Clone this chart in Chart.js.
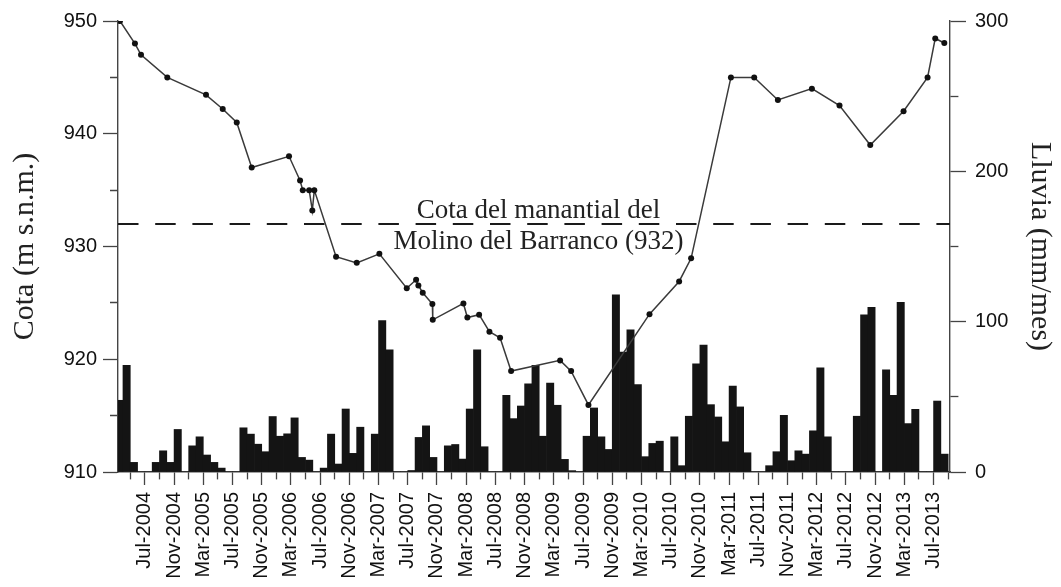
<!DOCTYPE html>
<html><head><meta charset="utf-8">
<script src="https://cdn.jsdelivr.net/npm/chart.js@4.4.1/dist/chart.umd.min.js"></script>
<style>html,body{margin:0;padding:0;background:#fff;} #c{display:block;}</style>
</head><body>
<canvas id="c" width="1061" height="587"></canvas>
<script>
// Monthly rainfall (mm/mes) from Mar-2004 to Aug-2013
const rainFirstMonth = 2; // months since Jan-2004 (2 = Mar-2004)
const rain = [
  47.7, 70.9, 6.4, 0, 0, 6.4, 14.1, 6.4, 28.3, 0,                       // 2004 Mar-Dec
  17.4, 23.4, 11.3, 6.4, 2.6, 0, 0, 29.4, 25.2, 18.5, 13.5, 36.9,        // 2005
  23.8, 25.4, 36.0, 9.7, 7.9, 0, 2.6, 25.2, 5.3, 41.9, 12.4, 29.8,       // 2006
  0, 25.2, 100.7, 81.2, 0, 0, 1.0, 23.0, 30.7, 9.7, 0, 17.4,             // 2007
  18.3, 8.6, 41.9, 81.2, 16.8, 0, 0, 51.0, 35.5, 43.9, 58.7, 70.9,       // 2008
  23.8, 59.2, 44.4, 8.4, 0.9, 0, 23.8, 42.6, 23.4, 15.0, 117.9, 79.7,    // 2009
  94.5, 58.1, 10.2, 19.0, 20.5, 0, 23.4, 4.2, 37.1, 72.0, 84.5, 44.8,    // 2010
  36.6, 20.1, 57.2, 43.3, 12.8, 0, 0, 4.2, 13.5, 37.7, 7.5, 14.1,        // 2011
  11.9, 27.4, 69.3, 23.4, 0, 0, 0, 37.1, 104.6, 109.5, 0, 68.0,          // 2012
  51.0, 112.8, 32.2, 41.7, 0, 0, 47.2, 11.9                              // 2013 Jan-Aug
];

// Water level measurements: time (months since Jan-2004) and level (m s.n.m.)
const levelMonths = [2.59, 4.64, 5.47, 9.07, 14.37, 16.66, 18.58, 20.63, 25.74, 27.25,
  27.62, 28.5, 28.93, 29.2, 32.18, 35.01, 38.11, 41.86, 43.14, 43.45,
  44.05, 45.37, 45.42, 49.62, 50.16, 51.77, 53.18, 54.64, 56.15, 62.86,
  64.37, 66.74, 75.1, 79.16, 80.8, 86.25, 89.44, 92.68, 97.34, 101.12,
  105.33, 109.89, 113.18, 114.23, 115.47];
const levelCota = [950.0, 948.0, 947.0, 945.0, 943.45, 942.2, 941.0, 937.0, 938.0, 935.85,
  935.0, 935.0, 933.2, 935.0, 929.1, 928.55, 929.35, 926.3, 927.05, 926.55,
  925.9, 924.9, 923.5, 924.95, 923.7, 923.95, 922.45, 921.9, 918.95, 919.9,
  918.95, 915.95, 924.0, 926.9, 928.95, 945.0, 945.0, 943.0, 944.0, 942.5,
  939.0, 942.0, 945.0, 948.45, 948.05];

// x-axis tick labels (every 4 months)
const tickMonths = [6, 10, 14, 18, 22, 26, 30, 34, 38, 42, 46, 50, 54, 58, 62, 66, 70, 74, 78, 82, 86, 90, 94, 98, 102, 106, 110, 114];
const tickLabels = ['Jul-2004', 'Nov-2004', 'Mar-2005', 'Jul-2005', 'Nov-2005', 'Mar-2006', 'Jul-2006',
  'Nov-2006', 'Mar-2007', 'Jul-2007', 'Nov-2007', 'Mar-2008', 'Jul-2008', 'Nov-2008', 'Mar-2009',
  'Jul-2009', 'Nov-2009', 'Mar-2010', 'Jul-2010', 'Nov-2010', 'Mar-2011', 'Jul-2011', 'Nov-2011',
  'Mar-2012', 'Jul-2012', 'Nov-2012', 'Mar-2013', 'Jul-2013'];

// Spring level reference
const springLevel = 932;
const springText = ['Cota del manantial del', 'Molino del Barranco (932)'];
const springTextMonth = 59.9;

const xMin = 2.32, xMax = 116.25;

const rainPoints = rain.map((v, i) => ({x: rainFirstMonth + i + 0.5, y: v}));
const levelPoints = levelMonths.map((m, i) => ({x: m, y: levelCota[i]}));
const springPoints = [{x: xMin, y: springLevel}, {x: xMax, y: springLevel}];

const sansFont = {family: '"Liberation Sans", Arial, sans-serif', size: 20};
const serifTitle = {family: '"Liberation Serif", "Times New Roman", serif', size: 30};

const springLabelPlugin = {
  id: 'springLabel',
  afterDatasetsDraw(chart) {
    const {ctx, scales} = chart;
    const cx = scales.x.getPixelForValue(springTextMonth);
    const cy = scales.y.getPixelForValue(springLevel);
    ctx.save();
    ctx.font = '27px "Liberation Serif", "Times New Roman", serif';
    ctx.fillStyle = '#222';
    ctx.textAlign = 'center';
    ctx.textBaseline = 'alphabetic';
    ctx.fillText(springText[0], cx, cy - 6);
    ctx.fillText(springText[1], cx, cy + 25);
    ctx.restore();
  }
};

new Chart(document.getElementById('c'), {
  type: 'bar',
  data: {
    datasets: [
      {
        type: 'line', data: levelPoints, yAxisID: 'y', order: 0,
        borderColor: '#3a3a3a', borderWidth: 1.5, tension: 0,
        pointRadius: 3, pointBackgroundColor: '#111', pointBorderWidth: 0, pointHoverRadius: 3
      },
      {
        type: 'line', data: springPoints, yAxisID: 'y', order: 1,
        borderColor: '#1a1a1a', borderWidth: 2, borderDash: [20.5, 16.7], pointRadius: 0
      },
      {
        type: 'bar', data: rainPoints, yAxisID: 'y2', order: 2,
        backgroundColor: '#141414', borderWidth: 0,
        barPercentage: 1.0, categoryPercentage: 1.0
      }
    ]
  },
  options: {
    responsive: false,
    animation: false,
    devicePixelRatio: 1,
    layout: {padding: {top: 19, left: 0, right: 0, bottom: 0}},
    plugins: {legend: {display: false}, tooltip: {enabled: false}},
    scales: {
      x: {
        type: 'linear', position: 'bottom', min: xMin, max: xMax, offset: false,
        afterFit: s => { s.height = 115; },
        border: {display: true, color: '#444', width: 1.4},
        grid: {
          offset: false,
          drawOnChartArea: false, drawTicks: true, tickLength: 13, tickColor: '#444', tickWidth: 1.3,
          tickBorderDash: ctx => (ctx.tick && tickMonths.includes(ctx.tick.value)) ? [] : [7, 100]
        },
        ticks: {
          stepSize: 2, includeBounds: false, autoSkip: false, minRotation: 90, maxRotation: 90,
          padding: 7, color: '#111', font: sansFont,
          callback: v => { const i = tickMonths.indexOf(v); return i >= 0 ? tickLabels[i] : ''; }
        }
      },
      y: {
        type: 'linear', position: 'left', min: 910, max: 950,
        afterFit: s => { s.width = 118; },
        border: {display: true, color: '#444', width: 1.4},
        grid: {
          drawOnChartArea: false, drawTicks: true, tickLength: 15, tickColor: '#444', tickWidth: 1.3,
          tickBorderDash: ctx => (ctx.tick && ctx.tick.value % 10 === 0) ? [] : [0, 7, 100]
        },
        ticks: {
          stepSize: 5, padding: 6, color: '#111', font: sansFont,
          callback: v => (v % 10 === 0 ? String(v) : '')
        },
        title: {display: true, text: 'Cota (m s.n.m.)', color: '#222', font: serifTitle, padding: {top: 7, bottom: 0}}
      },
      y2: {
        type: 'linear', position: 'right', min: 0, max: 300,
        afterFit: s => { s.width = 111; },
        border: {display: true, color: '#444', width: 1.4},
        grid: {
          drawOnChartArea: false, drawTicks: true, tickLength: 16, tickColor: '#444', tickWidth: 1.3,
          tickBorderDash: ctx => (ctx.tick && ctx.tick.value % 100 === 0) ? [] : [8, 100]
        },
        ticks: {
          stepSize: 50, padding: 9, color: '#111', font: sansFont,
          callback: v => (v % 100 === 0 ? String(v) : '')
        },
        title: {display: true, text: 'Lluvia (mm/mes)', color: '#222', font: serifTitle, padding: {top: 3, bottom: 0}}
      }
    }
  },
  plugins: [springLabelPlugin]
});
</script>
</body></html>
